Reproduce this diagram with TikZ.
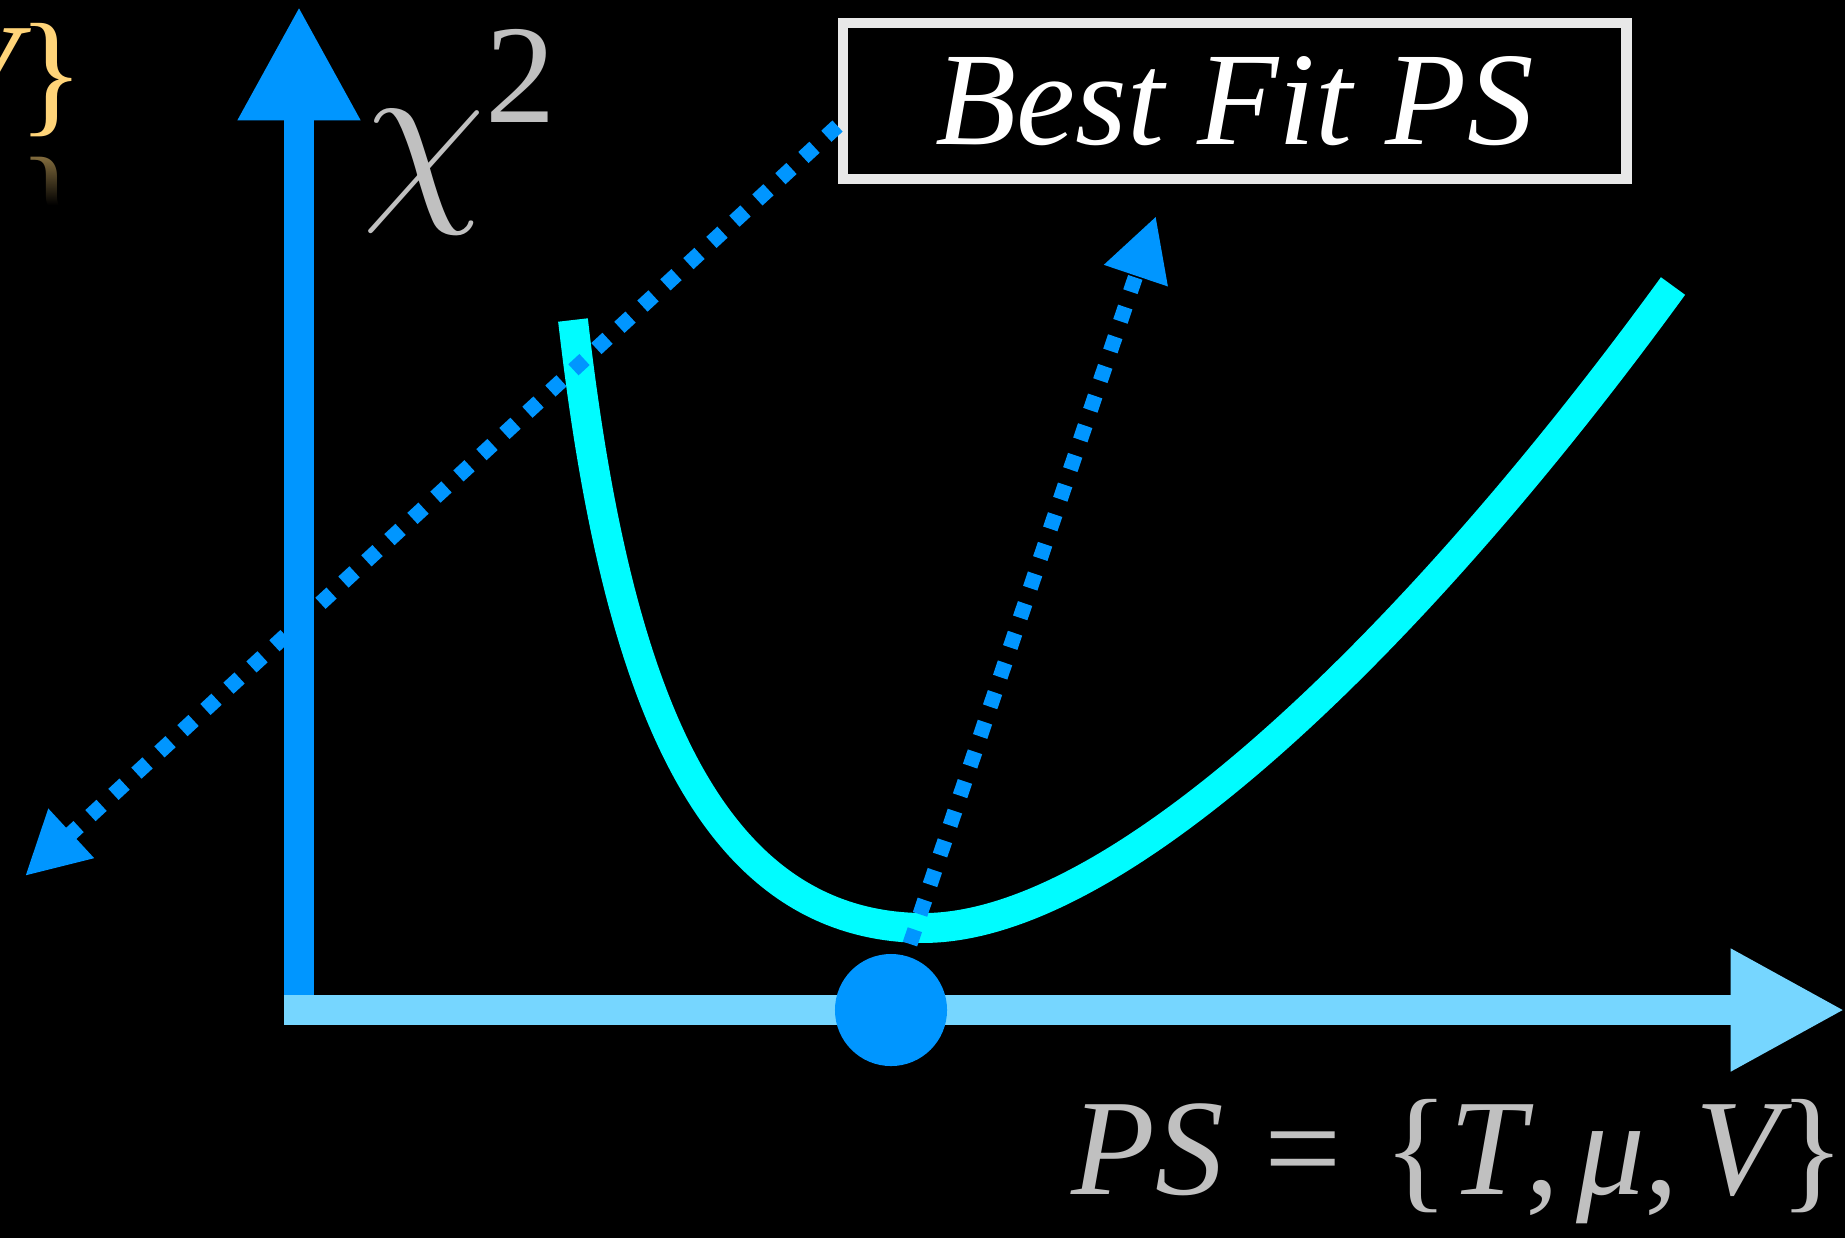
\documentclass[tikz,border=0pt]{standalone}
\usepackage{fontspec}
\usepackage{graphicx}
\setmainfont{Liberation Serif}
\usetikzlibrary{arrows.meta,fadings,calc}
\definecolor{axisblue}{HTML}{0096FF}
\definecolor{xaxisblue}{HTML}{76D6FF}
\definecolor{curvecyan}{HTML}{00FCFF}
\definecolor{labelgray}{HTML}{C0C0C0}
\definecolor{boxgray}{HTML}{E8E8E8}
\definecolor{goldtext}{HTML}{FFD479}
\tikzfading[name=fadedown, top color=transparent!100, bottom color=transparent!0]
\begin{document}
\begin{tikzpicture}[x=0.01cm,y=-0.01cm,
  yaxisline/.style={draw=axisblue, line width=8.8pt, -{Triangle[length=32.5pt,width=32.5pt]}},
  xaxisline/.style={draw=xaxisblue, line width=8.8pt, -{Triangle[length=32.5pt,width=32.5pt]}},
  curveline/.style={draw=curvecyan, line width=8.5pt},
  dotline/.style={draw=axisblue, line width=4.3pt, dash pattern=on 4.3pt off 4.6pt, -{Triangle[length=17.9pt,width=17.9pt]}},
  minpoint/.style={circle, fill=axisblue, minimum size=1.12cm, inner sep=0pt},
  bestbox/.style={draw=boxgray, line width=3pt, minimum width=7.83cm, minimum height=1.56cm, inner sep=0pt, text=white, font=\fontsize{37.8pt}{40pt}\selectfont\itshape},
  pslabel/.style={text=labelgray, inner sep=0pt, font=\fontsize{39pt}{42pt}\selectfont},
  goldlabel/.style={text=goldtext, inner sep=0pt, font=\fontsize{39pt}{42pt}\selectfont},
  chilabel/.style={text=labelgray, inner sep=0pt, font=\fontsize{10pt}{12pt}\selectfont}
]
\fill[black] (0,0) rectangle (1845,1238);
\useasboundingbox (0,0) rectangle (1845,1238);

% axes
\coordinate (origin) at (299,1010);
\coordinate (ytip) at (299,6);
\coordinate (xstart) at (284,1010);
\coordinate (xtip) at (1845,1010);
\draw[yaxisline] (origin) -- (ytip);
\draw[xaxisline] (xstart) -- (xtip);

% chi^2 curve
\coordinate (cmin) at (924,928);
\draw[curveline] (573,320) .. controls (612,659) and (694,927) .. (cmin)
  .. controls (1130,927) and (1436,612) .. (1673,286);

% minimum point on the axis
\node[minpoint] (minpt) at (891,1010) {};

% labels
\node[bestbox] (box) at (1234.5,101) {Best Fit PS};
\node[chilabel, anchor=base west] (chi) at (362,195) {\scalebox{5.6}{$\chi$}\raisebox{20.5pt}{\fontsize{40pt}{42pt}\selectfont 2}};
\node[pslabel, anchor=base east] (ps) at (1846,1194) {{\itshape PS}\hspace{0.3em}=\hspace{0.3em}\{{\itshape T},\hspace{0.12em}{\itshape μ},\hspace{0.12em}{\itshape V}\}};

% gold partial label with reflection
\node[goldlabel, anchor=base east] (gold) at (85,118) {{\itshape V}\}};
\begin{scope}[shift={(85,175)}, yscale=-1]
  \node[goldlabel, text=goldtext!60!black, anchor=base east, transform shape] (goldrefl) at (0,0) {{\itshape V}\}};
\end{scope}
\fill[black, path fading=fadedown] (0,148) rectangle (120,205);
\fill[black] (0,205) rectangle (120,300);

% dotted arrows
\coordinate (d1start) at ($(box.west)+(0,25)$);
\coordinate (d1tip) at (25,876);
\draw[dotline] (d1start) -- (d1tip);
\coordinate (d2start) at (910,944);
\coordinate (d2tip) at (1156,216);
\draw[dotline] (d2start) -- (d2tip);
\end{tikzpicture}
\end{document}
